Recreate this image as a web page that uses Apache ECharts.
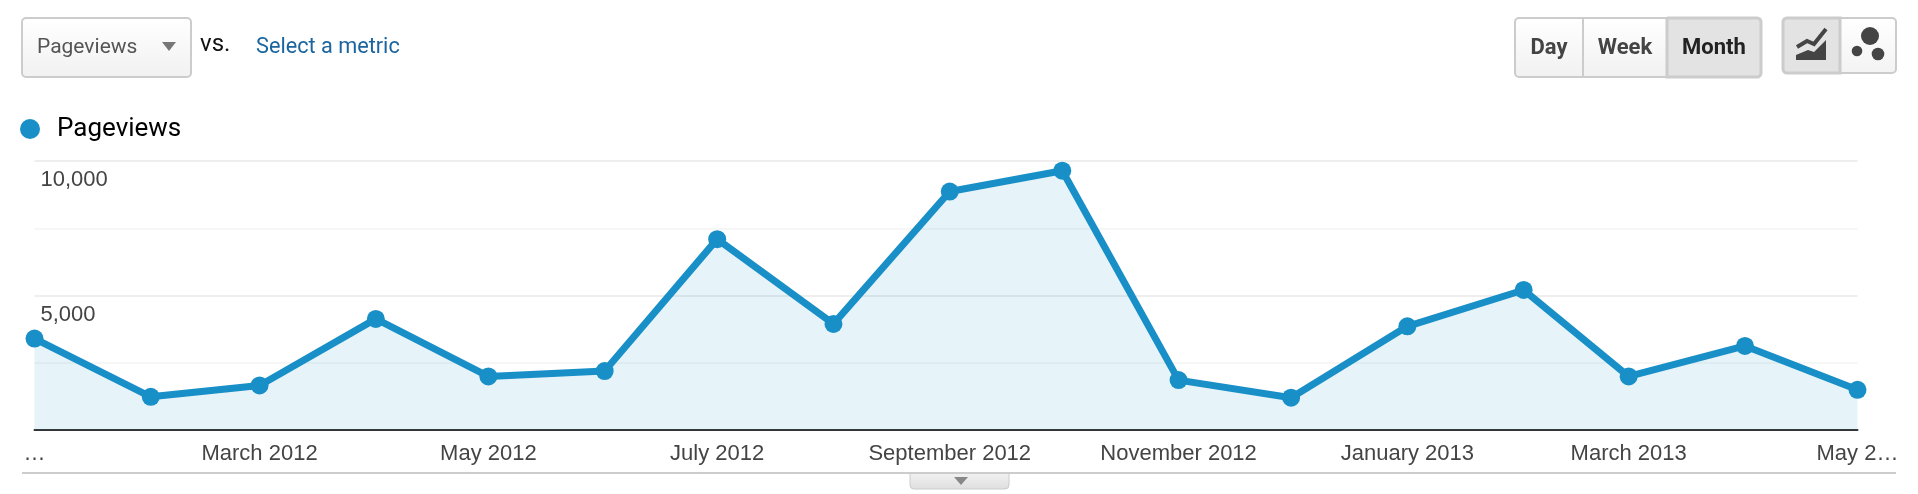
<!DOCTYPE html>
<html>
<head>
<meta charset="utf-8">
<title>Pageviews</title>
<style>
    html, body { margin: 0; padding: 0; background: #fff; }
    #main { width: 1918px; height: 494px; }
</style>
<script src="https://cdn.jsdelivr.net/npm/echarts@6/dist/echarts.min.js"></script>
</head>
<body>
<div id="main"></div>
<script>
var months = ['2012-01-01', '2012-02-01', '2012-03-01', '2012-04-01', '2012-05-01', '2012-06-01',
    '2012-07-01', '2012-08-01', '2012-09-01', '2012-10-01', '2012-11-01', '2012-12-01',
    '2013-01-01', '2013-02-01', '2013-03-01', '2013-04-01', '2013-05-01'];
var pageviews = [3400, 1235, 1655, 4130, 1990, 2190, 7095, 3945, 8865, 9640, 1855, 1200, 3855, 5205, 1990, 3125, 1495];
var xTickDates = ['2012-01-01', '2012-03-01', '2012-05-01', '2012-07-01', '2012-09-01', '2012-11-01', '2013-01-01', '2013-03-01', '2013-05-01'];
var xTickLabels = ['…', 'March 2012', 'May 2012', 'July 2012', 'September 2012', 'November 2012', 'January 2013', 'March 2013', 'May 2…'];
var yTickValues = [5000, 10000];
var yTickLabels = ['5,000', '10,000'];

var uiFont = 'Roboto';
var chartFont = '"Liberation Sans"';
var blue = '#198fc8';

// months are not the same length, so the x axis runs on real timestamps
function toTime(s) {
    return Date.parse(s + 'T00:00:00Z');
}
var xTickTimes = xTickDates.map(toTime);

function btnFill(top, bottom) {
    return {
        type: 'linear', x: 0, y: 0, x2: 0, y2: 1,
        colorStops: [{offset: 0, color: top}, {offset: 1, color: bottom}]
    };
}

function box(x, y, w, h, r, fill, stroke, lineWidth) {
    return {
        type: 'rect',
        shape: {x: x, y: y, width: w, height: h, r: r},
        style: {fill: fill, stroke: stroke, lineWidth: lineWidth}
    };
}

function label(text, x, y, size, weight, color, align) {
    return {
        type: 'text',
        x: x,
        y: y,
        style: {
            text: text,
            fontFamily: uiFont,
            fontSize: size,
            fontWeight: weight,
            fill: color,
            align: align,
            verticalAlign: 'middle'
        }
    };
}

function poly(points, fill) {
    return {type: 'polygon', shape: {points: points}, style: {fill: fill}};
}

function dot(cx, cy, r) {
    return {type: 'circle', shape: {cx: cx, cy: cy, r: r}, style: {fill: '#444'}};
}

var controls = [
    // metric selector
    box(22, 18, 169, 59, 4, btnFill('#ffffff', '#f1f1f1'), '#cccccc', 2),
    label('Pageviews', 37, 48, 21, 400, '#555', 'left'),
    poly([[162, 42], [176, 42], [169, 51]], '#777'),
    label('vs.', 200, 45, 24, 400, '#111', 'left'),
    label('Select a metric', 256, 48, 21.7, 400, '#1b659f', 'left'),

    // day / week / month
    box(1515, 18, 246, 59, 4, btnFill('#ffffff', '#f1f1f1'), '#cccccc', 2),
    box(1582, 18, 2, 59, 0, '#cccccc'),
    box(1667, 18, 94, 59, [0, 4, 4, 0], '#e3e3e3', '#cccccc', 3),
    label('Day', 1549, 48, 22, 700, '#444', 'center'),
    label('Week', 1625, 48, 22, 700, '#444', 'center'),
    label('Month', 1714, 48, 22, 700, '#222', 'center'),

    // line / motion chart switch
    box(1783, 18, 113, 55, 4, btnFill('#ffffff', '#f3f3f3'), '#cccccc', 2),
    box(1783, 18, 57, 55, [4, 0, 0, 4], '#e3e3e3', '#cccccc', 3),
    poly([[1796, 60], [1796, 55], [1808, 50], [1814, 52], [1826, 40], [1826, 60]], '#444'),
    {
        type: 'polyline',
        shape: {points: [[1797, 47], [1807, 41], [1814, 44], [1826, 29]]},
        style: {stroke: '#444', lineWidth: 4, fill: null}
    },
    dot(1870, 36, 9),
    dot(1857, 51, 5.3),
    dot(1878, 54, 6.3),

    // drawer handle under the chart
    box(910, 473, 99, 16, [0, 0, 4, 4], btnFill('#f2f2f2', '#dedede'), '#cccccc', 1),
    poly([[954, 477], [968, 477], [961, 485]], '#888'),
    box(22, 472, 1874, 2, 0, '#cccccc')
];

var myChart = echarts.init(document.getElementById('main'));

var option = {
    backgroundColor: '#fff',
    animation: false,
    legend: {
        left: 20,
        top: 116,
        padding: 0,
        icon: 'circle',
        itemWidth: 20,
        itemHeight: 20,
        textStyle: {
            fontFamily: uiFont,
            fontSize: 26,
            color: '#000',
            padding: [0, 0, 0, 12]
        }
    },
    grid: {left: 34.5, right: 60.5, top: 161, bottom: 64},
    xAxis: {
        type: 'value',
        min: toTime(months[0]),
        max: toTime(months[months.length - 1]),
        splitLine: {show: false},
        axisTick: {show: false},
        axisLine: {onZero: false, lineStyle: {color: '#333', width: 2}},
        axisLabel: {
            customValues: xTickTimes,
            hideOverlap: false,
            margin: 13,
            color: '#444',
            fontFamily: chartFont,
            fontSize: 22,
            formatter: function (value) {
                return xTickLabels[xTickTimes.indexOf(value)];
            }
        }
    },
    yAxis: {
        type: 'value',
        min: 0,
        max: 10000,
        interval: 2500,
        axisLine: {show: false},
        axisTick: {show: false},
        splitLine: {lineStyle: {color: ['#eeeeee', '#f6f6f6'], width: 2}},
        axisLabel: {
            inside: true,
            customValues: yTickValues,
            margin: 6,
            color: '#444',
            fontFamily: chartFont,
            fontSize: 22,
            verticalAlign: 'top',
            padding: [8, 0, 0, 0],
            formatter: function (value) {
                return yTickLabels[yTickValues.indexOf(value)];
            }
        }
    },
    series: [
        {
            name: 'Pageviews',
            type: 'line',
            clip: false,
            data: months.map(function (m, i) { return [toTime(m), pageviews[i]]; }),
            symbol: 'circle',
            symbolSize: 18,
            itemStyle: {color: blue},
            lineStyle: {color: blue, width: 7},
            areaStyle: {color: 'rgba(25, 143, 200, 0.11)', opacity: 1}
        }
    ],
    graphic: controls
};

myChart.setOption(option);
</script>
</body>
</html>
